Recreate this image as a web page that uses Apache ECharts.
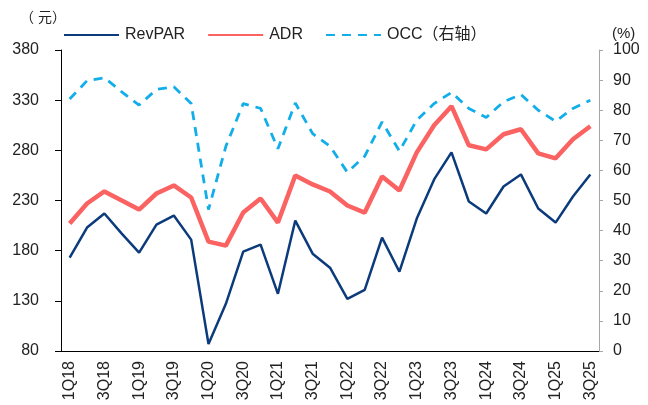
<!DOCTYPE html>
<html>
<head>
<meta charset="utf-8">
<script src="https://cdn.jsdelivr.net/npm/echarts@6/dist/echarts.min.js"></script>
<style>
 html,body{margin:0;padding:0;background:#fff;}
 #main{width:648px;height:405px;}
</style>
</head>
<body>
<div id="main"></div>
<script>
var quarters = ['1Q18','2Q18','3Q18','4Q18','1Q19','2Q19','3Q19','4Q19',
  '1Q20','2Q20','3Q20','4Q20','1Q21','2Q21','3Q21','4Q21',
  '1Q22','2Q22','3Q22','4Q22','1Q23','2Q23','3Q23','4Q23',
  '1Q24','2Q24','3Q24','4Q24','1Q25','2Q25','3Q25'];

var revpar = [173, 203, 217, 197, 178, 206, 215, 191, 87, 127, 179, 186, 137, 210, 177, 163,
  132, 141, 193, 159, 212, 251, 278, 229, 217, 244, 256, 222, 208, 234, 256];

var adr = [207, 227, 239, 230, 221, 237, 245, 233, 189, 185, 218, 232, 208, 255, 246, 239,
  225, 218, 254, 240, 278, 305, 324, 285, 281, 296, 301, 277, 272, 291, 304];

var occ = [83.7, 89.8, 90.8, 86.1, 81.7, 86.9, 87.8, 82.2, 47, 68, 82.2, 80.6, 67.2, 82.4, 72.2, 68,
  59.4, 64.7, 76.1, 66.4, 76.7, 82.2, 85.9, 80.6, 77.6, 82.8, 85.2, 80, 76.3, 80.6, 83.3];

var chart = echarts.init(document.getElementById('main'));
var font = 'Arial, "Liberation Sans", "Noto Sans CJK SC", sans-serif';

var option = {
    animation: false,
    textStyle: { fontFamily: font },
    graphic: [
        { type: 'text', left: 20, top: 11, style: { text: '（ 元）', font: '14px ' + font, fill: '#222' } },
        { type: 'text', left: 612, top: 26, style: { text: '(%)', font: '15px ' + font, fill: '#222' } }
    ],
    legend: {
        left: 63,
        top: 27,
        padding: 0,
        itemWidth: 55,
        itemHeight: 14,
        itemGap: 22,
        itemStyle: { opacity: 0 },
        textStyle: { fontSize: 16, color: '#222', fontFamily: font, padding: [0, 0, 0, 1] },
        data: ['RevPAR', 'ADR', 'OCC（右轴）']
    },
    grid: { left: 61, right: 49, top: 50, bottom: 54 },
    xAxis: {
        type: 'category',
        data: quarters,
        boundaryGap: true,
        axisLine: { lineStyle: { color: '#000', width: 1 } },
        axisTick: { interval: 0, length: 5, lineStyle: { color: '#000' } },
        axisLabel: { interval: 1, rotate: 90, fontSize: 16, color: '#222', margin: 10 }
    },
    yAxis: [{
        type: 'value',
        min: 80,
        max: 380,
        interval: 50,
        position: 'left',
        splitLine: { show: false },
        axisLine: { show: true, lineStyle: { color: '#000' } },
        axisTick: { show: true, length: 6, lineStyle: { color: '#000' } },
        axisLabel: { fontSize: 16, color: '#222', margin: 22 }
    }, {
        type: 'value',
        min: 0,
        max: 100,
        interval: 10,
        position: 'right',
        splitLine: { show: false },
        axisLine: { show: true, lineStyle: { color: '#a6a6a6' } },
        axisTick: { show: true, length: 4, lineStyle: { color: '#a6a6a6' } },
        axisLabel: { fontSize: 16, color: '#222', margin: 14 }
    }],
    series: [{
        name: 'RevPAR',
        type: 'line',
        data: revpar,
        symbol: 'none',
        color: '#0c3b7c',
        lineStyle: { width: 2.5, color: '#0c3b7c' }
    }, {
        name: 'ADR',
        type: 'line',
        data: adr,
        symbol: 'none',
        color: '#fb6262',
        lineStyle: { width: 4.5, color: '#fb6262' }
    }, {
        name: 'OCC（右轴）',
        type: 'line',
        yAxisIndex: 1,
        data: occ,
        symbol: 'none',
        color: '#12aeea',
        lineStyle: { width: 2.8, color: '#12aeea', type: [9, 7] }
    }]
};
chart.setOption(option);
</script>
</body>
</html>
